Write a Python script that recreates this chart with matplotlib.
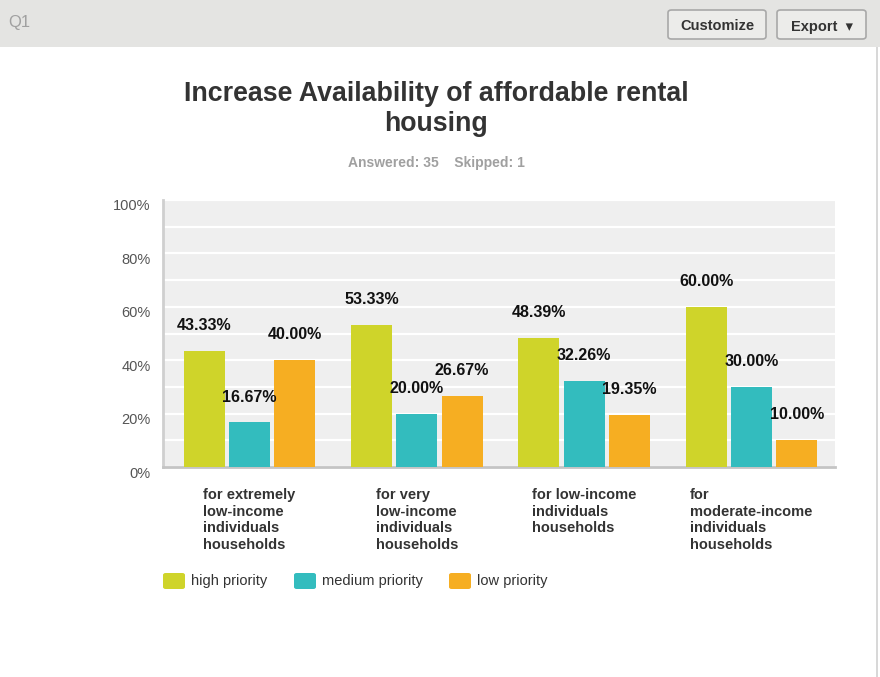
import numpy as np
import matplotlib
matplotlib.use('Agg')
import matplotlib.pyplot as plt
from matplotlib.patches import FancyBboxPatch, Rectangle
from matplotlib.transforms import ScaledTranslation

plt.rcParams['font.family'] = ['Liberation Sans', 'DejaVu Sans']

categories = ['for extremely\nlow-income\nindividuals\nhouseholds',
              'for very\nlow-income\nindividuals\nhouseholds',
              'for low-income\nindividuals\nhouseholds',
              'for\nmoderate-income\nindividuals\nhouseholds']
series_names = ['high priority', 'medium priority', 'low priority']
high = [43.33, 53.33, 48.39, 60.00]
medium = [16.67, 20.00, 32.26, 30.00]
low = [40.00, 26.67, 19.35, 10.00]
colors = ['#cfd42a', '#33bcbe', '#f6ae22']

W, H = 880, 677
fig = plt.figure(figsize=(W / 100, H / 100), dpi=100)


def px(x0, y0, w, h):
    # pixel box (top-left origin) -> figure fraction
    return [x0 / W, 1 - (y0 + h) / H, w / W, h / H]


# header band
fig.patches.append(Rectangle((0, 1 - 47 / H), 1, 47 / H, transform=fig.transFigure,
                             facecolor='#e4e4e2', edgecolor='none', zorder=0))
fig.patches.append(Rectangle((876 / W, 0), 1.5 / W, 1 - 47 / H, transform=fig.transFigure,
                             facecolor='#d8d8d8', edgecolor='none', zorder=0))
fig.text(8 / W, 1 - 22 / H, 'Q1', fontsize=12, color='#a0a0a0', va='center')
for label, x0, x1 in [('Customize', 668, 766), ('Export  \u25be', 777, 866)]:
    fig.patches.append(FancyBboxPatch((x0 / W, 1 - 39 / H), (x1 - x0) / W, 29 / H,
                                      boxstyle='round,pad=0,rounding_size=0.004',
                                      transform=fig.transFigure, facecolor='#ececea',
                                      edgecolor='#a8a8a8', linewidth=1.2))
    fig.text((x0 + x1) / 2 / W, 1 - 25 / H, label, fontsize=10.5, fontweight='bold',
             color='#333333', ha='center', va='center_baseline')

# titles
fig.text(436 / W, 1 - 94 / H, 'Increase Availability of affordable rental',
         fontsize=19.3, fontweight='bold', color='#333333', ha='center', va='center')
fig.text(436 / W, 1 - 124 / H, 'housing',
         fontsize=19.3, fontweight='bold', color='#333333', ha='center', va='center')
fig.text(436 / W, 1 - 163 / H, 'Answered: 35    Skipped: 1', fontsize=10,
         fontweight='bold', color='#a0a0a0', ha='center', va='center')

ax = fig.add_axes(px(163, 200, 672, 267))
ax.set_facecolor('#efefef')
x = np.arange(len(categories))
width = 0.245
step = 0.271
for i, (vals, name) in enumerate(zip([high, medium, low], series_names)):
    pos = x + (i - 1) * step
    ax.bar(pos, vals, width, color=colors[i], label=name, zorder=3)
    for xp, v in zip(pos, vals):
        ax.annotate('{:.2f}%'.format(v), (xp, v), xytext=(0, 18.3), textcoords='offset points',
                    ha='center', va='center', fontsize=11.5, fontweight='bold',
                    color='#111111', zorder=4)

ax.set_xlim(-0.517, 3.5)
ax.set_ylim(0, 100)
ax.set_yticks(np.arange(0, 101, 20))
ax.set_yticks(np.arange(10, 100, 20), minor=True)
ax.set_yticklabels(['{}%'.format(v) for v in range(0, 101, 20)])
ax.grid(True, which='both', axis='y', color='white', linewidth=1.6, zorder=1)
ax.tick_params(axis='y', which='both', length=0, pad=9, labelsize=10.5, labelcolor='#555555')
for lab in ax.get_yticklabels():
    lab.set_transform(lab.get_transform() + ScaledTranslation(0, -0.05, fig.dpi_scale_trans))
ax.set_xticks(x)
ax.set_xticklabels(categories, fontsize=10.5, fontweight='bold', color='#333333',
                   multialignment='left', va='top', linespacing=1.25)
ax.tick_params(axis='x', length=0, pad=15)
for side in ['top', 'right']:
    ax.spines[side].set_visible(False)
ax.spines['left'].set_color('#cfcfcf')
ax.spines['left'].set_linewidth(2)
ax.spines['bottom'].set_color('#c4c4c4')
ax.spines['bottom'].set_linewidth(2)

# legend
leg_x = [163, 294, 449]
for i, name in enumerate(series_names):
    fig.patches.append(FancyBboxPatch((leg_x[i] / W, 1 - 589 / H), 22 / W, 16 / H,
                                      boxstyle='round,pad=0,rounding_size=0.003',
                                      transform=fig.transFigure, facecolor=colors[i],
                                      edgecolor='none'))
    fig.text((leg_x[i] + 28) / W, 1 - 581 / H, name, fontsize=10.5, color='#333333',
             va='center')

fig.savefig('out.png', dpi=100)
